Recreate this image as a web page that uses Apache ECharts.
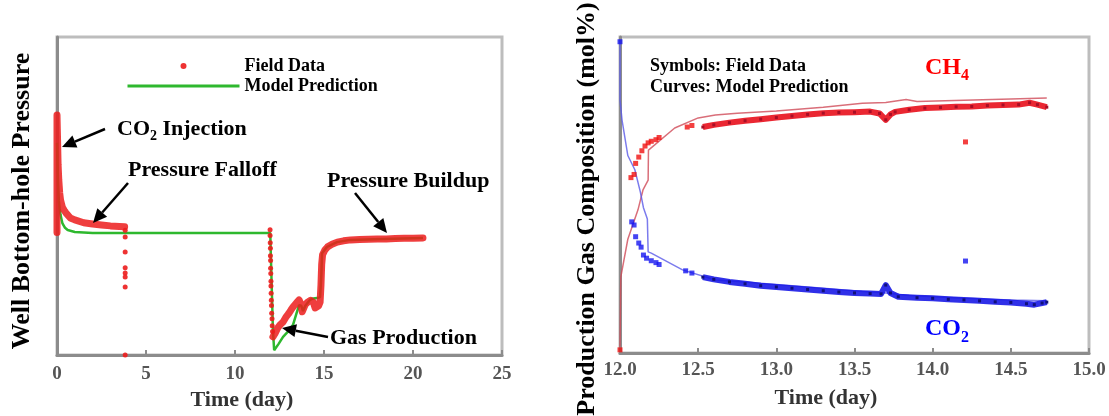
<!DOCTYPE html>
<html><head><meta charset="utf-8">
<script src="https://cdn.jsdelivr.net/npm/echarts@6/dist/echarts.min.js"></script>
<style>html,body{margin:0;padding:0;background:#fff}#c{width:1109px;height:416px}</style>
</head><body><div id="c"></div>
<script>
// ---------- tick labels ----------
const pressureTicks = [0, 5, 10, 15, 20, 25];
const compositionTicks = [12.0, 12.5, 13.0, 13.5, 14.0, 14.5, 15.0];

// ---------- left panel: well bottom-hole pressure (relative units, 0-100) ----------
const fieldFalloff = [[0,38.5],[0,75.5],[0.03,68],[0.06,60],[0.1,55],[0.15,51],[0.2,48.7],[0.3,46.5],[0.4,45.5],[0.5,44.7],[0.75,43.1],[1.0,42.5],[1.5,41.6],[2.0,41.2],[2.5,40.9],[3.0,40.6],[3.5,40.4],[3.8,40.3]];
const fieldDrops = [[3.83,39.2],[3.83,37.1],[3.83,32.4],[3.83,27.4],[3.83,25.8],[3.83,24.5],[3.83,21.4],[3.83,0],
  [11.97,39.4],[11.97,37.6],[11.98,35.3],[11.99,33.6],[11.99,31.2],[12.0,29.7],[12.0,27.3],[12.01,25.6],[12.02,23.2],[12.02,21.7],[12.03,19.4],[12.04,17.2],[12.05,15.6],[12.06,13.1],[12.08,11.4],[12.09,9.2],[12.11,7.4]];
const fieldProduction = [[12.13,5.7],[12.25,6.8],[12.4,8.5],[12.55,9.6],[12.7,10.4],[12.85,11.8],[13.0,12.9],[13.15,14.2],[13.26,15.1],[13.45,16.4],[13.6,17.3],[13.7,16.0],[13.78,13.6],[13.85,13.8],[13.95,15.9],[14.1,16.7],[14.25,17.2],[14.4,16.6],[14.5,14.8],[14.6,14.3],[14.7,15.5],[14.78,16.6],[14.83,22],[14.87,28.5],[14.92,31.5],[15.05,33],[15.2,34],[15.45,34.8],[15.75,35.5],[16.1,35.9],[16.5,36.2],[17.0,36.3],[17.5,36.4],[18.0,36.5],[18.5,36.5],[19.0,36.6],[19.5,36.7],[20.0,36.7],[20.56,36.8]];
const modelPressure = [[0,66.7],[0.03,60],[0.06,54],[0.1,48.7],[0.15,46],[0.2,44],[0.3,41.5],[0.45,40],[0.6,39.3],[1.0,38.7],[2.0,38.4],[4,38.4],[8,38.4],[11.98,38.4],[12.02,30],[12.08,18],[12.13,8],[12.2,1.5],[12.28,0.9],[12.45,3.5],[12.7,5.7],[13.0,7.5],[13.26,9.5],[13.45,13],[13.6,15.7],[13.72,15.5],[13.82,13.8],[13.95,15.5],[14.21,17.3],[14.4,17.8],[14.6,17.9],[14.78,18.2],[14.85,25],[14.89,32],[15.17,34],[15.73,35.5],[16.46,36.2],[18.31,36.5],[20.56,36.8]];

// ---------- right panel: production gas composition (mol%) ----------
const ch4FieldPoints = [[12.0,1],[12.07,55.5],[12.09,56.5],[12.1,60],[12.12,62],[12.14,64],[12.16,65.5],[12.18,66.5],[12.2,67],[12.23,67.5],[12.25,68.2],[12.43,71.5],[12.46,72],[14.21,66.8]];
const ch4FieldTrend = [[12.53,71.5],[12.6,72.2],[12.7,72.9],[12.8,73.5],[12.9,74.0],[13.0,74.5],[13.1,75.0],[13.2,75.5],[13.3,75.9],[13.4,76.1],[13.5,76.2],[13.6,76.4],[13.66,75.8],[13.70,73.8],[13.73,75.5],[13.76,76.3],[13.85,77.0],[13.95,77.5],[14.05,77.7],[14.15,77.9],[14.25,78.0],[14.35,78.3],[14.45,78.5],[14.55,78.6],[14.62,79.2],[14.67,78.6],[14.73,77.8]];
const ch4Model = [[12.0,2],[12.005,24],[12.05,36],[12.115,45.3],[12.147,51.6],[12.18,54.7],[12.182,64.2],[12.35,71.2],[12.5,74.4],[12.61,75.3],[12.75,75.9],[13.0,76.6],[13.3,77.8],[13.55,79.0],[13.7,79.3],[13.83,80.2],[13.9,79.6],[14.2,80.0],[14.5,80.4],[14.73,80.7]];
const co2FieldPoints = [[12.0,98.5],[12.075,41.5],[12.09,40.5],[12.1,36.8],[12.12,34.8],[12.135,33.5],[12.15,31],[12.17,30],[12.2,29.2],[12.23,28.6],[12.25,28],[12.42,26],[12.46,25.3],[14.21,29.1]];
const co2FieldTrend = [[12.53,24],[12.6,23.3],[12.7,22.5],[12.8,21.9],[12.9,21.3],[13.0,20.9],[13.1,20.5],[13.2,20.1],[13.3,19.7],[13.4,19.3],[13.5,19.0],[13.6,18.8],[13.67,18.7],[13.70,21.5],[13.73,19],[13.78,17.8],[13.9,17.5],[14.0,17.3],[14.1,17.0],[14.2,16.8],[14.3,16.5],[14.4,16.2],[14.5,16.0],[14.6,15.6],[14.65,15.3],[14.7,15.8],[14.73,16.1]];
const co2Model = [[12.0,99],[12.0,80],[12.013,73.7],[12.05,62.5],[12.095,58],[12.13,51],[12.15,46],[12.175,42.4],[12.18,32],[12.2,31.6],[12.4,26.3],[12.61,23.1],[12.75,22.6],[13.0,21.7],[13.3,20.5],[13.55,19.5],[13.7,19],[13.85,18.2],[14.2,17.3],[14.5,16.8],[14.73,16.5]];

// ---------- helpers ----------
const FONT = '"Liberation Serif", "Times New Roman", serif';
const mctx = document.createElement('canvas').getContext('2d');
function tw(t, s) { mctx.font = 'bold ' + s + 'px ' + FONT; return mctx.measureText(t).width; }
function txt(x, y, t, s, color, extra) {
  return Object.assign({ type: 'text', x: x, y: y, z: 100,
    style: { text: t, fontSize: s, fontWeight: 'bold', fontFamily: FONT, fill: color || '#000',
      align: 'left', textAlign: 'left', verticalAlign: 'middle', textVerticalAlign: 'middle' } }, extra || {});
}
function subLabel(x, y, main, sub, rest, s, ss, dy, color) {
  const out = [txt(x, y, main, s, color)];
  const w1 = tw(main, s);
  out.push(txt(x + w1, y + dy, sub, ss, color));
  if (rest) out.push(txt(x + w1 + tw(sub, ss), y, rest, s, color));
  return out;
}
function arrow(x1, y1, x2, y2) {
  const dx = x2 - x1, dy = y2 - y1, L = Math.hypot(dx, dy);
  const ux = dx / L, uy = dy / L, nx = -uy, ny = ux, H = 14, W = 6.5;
  const bx = x2 - ux * H, by = y2 - uy * H;
  return [
    { type: 'line', z: 100, shape: { x1: x1, y1: y1, x2: bx, y2: by }, style: { stroke: '#000', lineWidth: 2.5 } },
    { type: 'polygon', z: 100, shape: { points: [[x2, y2], [bx + nx * W, by + ny * W], [bx - nx * W, by - ny * W]] }, style: { fill: '#000' } }
  ];
}
function centered(g) { g.style.align = 'center'; g.style.textAlign = 'center'; return g; }

const graphics = [].concat(
  subLabel(117, 129, 'CO', '2', ' Injection', 22, 14, 7, '#000'),
  [txt(128, 170, 'Pressure Falloff', 22), txt(327, 181, 'Pressure Buildup', 22), txt(330, 338, 'Gas Production', 22)],
  arrow(105, 129, 62, 147), arrow(128, 183, 93, 223), arrow(355, 193, 387, 233), arrow(328, 337, 282, 328),
  [txt(650, 66, 'Symbols: Field Data', 18), txt(650, 87, 'Curves: Model Prediction', 18)],
  subLabel(925, 67.5, 'CH', '4', '', 24, 16, 8, '#ff0000'),
  subLabel(925, 328.5, 'CO', '2', '', 24, 16, 9, '#0000ff'),
  [centered(txt(242, 400, 'Time (day)', 22, '#333')), centered(txt(826, 398, 'Time (day)', 22, '#333'))],
  [centered(txt(22, 201, 'Well Bottom-hole Pressure', 26, '#000', { rotation: Math.PI / 2 })),
   centered(txt(587, 209, 'Production Gas Composition (mol%)', 26, '#000', { rotation: Math.PI / 2 }))]
);

function xAxisCfg(idx, ticks, fmt, margin) {
  return {
    type: 'value', gridIndex: idx, min: ticks[0], max: ticks[ticks.length - 1], interval: ticks[1] - ticks[0],
    axisLine: { show: true, lineStyle: { color: '#8c8c8c', width: 3 } },
    axisTick: { show: true, inside: true, length: 5, lineStyle: { color: '#8c8c8c', width: 2 } },
    axisLabel: { formatter: fmt, margin: margin, fontFamily: FONT, fontWeight: 'bold', fontSize: 19, color: '#555' },
    splitLine: { show: false }
  };
}
function yAxisCfg(idx) {
  return {
    type: 'value', gridIndex: idx, min: 0, max: 100,
    axisLine: { show: true, lineStyle: { color: '#8c8c8c', width: 3 } },
    axisTick: { show: false }, axisLabel: { show: false }, splitLine: { show: false }
  };
}

const chart = echarts.init(document.getElementById('c'), null, { renderer: 'canvas' });
chart.setOption({
  animation: false,
  backgroundColor: '#fff',
  grid: [
    { left: 57, top: 37, right: 607, bottom: 61, show: true, borderColor: '#bdbdbd', borderWidth: 3, backgroundColor: 'transparent' },
    { left: 620, top: 37, right: 20, bottom: 63, show: true, borderColor: '#bdbdbd', borderWidth: 3, backgroundColor: 'transparent' }
  ],
  xAxis: [
    xAxisCfg(0, pressureTicks, function (v) { return String(v); }, 10),
    xAxisCfg(1, compositionTicks, function (v) { return v.toFixed(1); }, 8)
  ],
  yAxis: [yAxisCfg(0), yAxisCfg(1)],
  legend: {
    left: 126, top: 57, orient: 'vertical', padding: 0, itemGap: 2, itemWidth: 112, itemHeight: 6,
    selectedMode: false,
    data: [{ name: 'Field Data', icon: 'circle' },
           { name: 'Model Prediction', itemStyle: { opacity: 0 }, lineStyle: { width: 3 } }],
    textStyle: { fontFamily: FONT, fontWeight: 'bold', fontSize: 18, color: '#000' }
  },
  series: [
    { type: 'scatter', name: 'Field Data', xAxisIndex: 0, yAxisIndex: 0, data: fieldDrops,
      symbol: 'circle', symbolSize: 5, itemStyle: { color: '#ec1c1c', opacity: 0.9 }, z: 4 },
    { type: 'line', name: 'Model Prediction', xAxisIndex: 0, yAxisIndex: 0, data: modelPressure,
      symbol: 'none', showSymbol: false, lineStyle: { color: '#2eb82e', width: 2.5 }, itemStyle: { color: '#2eb82e' }, z: 2 },
    { type: 'line', name: 'Field Data', xAxisIndex: 0, yAxisIndex: 0, data: fieldFalloff,
      symbol: 'none', lineStyle: { color: '#ec1c1c', width: 7, opacity: 0.85, cap: 'round', join: 'round' }, itemStyle: { color: '#ec1c1c' }, z: 3 },
    { type: 'line', name: 'Field Data', xAxisIndex: 0, yAxisIndex: 0, data: fieldProduction,
      symbol: 'none', lineStyle: { color: '#ec1c1c', width: 7, opacity: 0.85, cap: 'round', join: 'round' }, itemStyle: { color: '#ec1c1c' }, z: 3 },

    { type: 'line', name: 'CH4 Model', xAxisIndex: 1, yAxisIndex: 1, data: ch4Model,
      symbol: 'none', lineStyle: { color: '#d04a58', width: 1.5, opacity: 0.8 }, z: 2 },
    { type: 'line', name: 'CH4 Field', xAxisIndex: 1, yAxisIndex: 1, data: ch4FieldTrend,
      symbol: 'rect', symbolSize: 3, showSymbol: true, itemStyle: { color: '#a80e26' },
      lineStyle: { color: '#e8101c', width: 6, opacity: 0.9, join: 'round' }, z: 3 },
    { type: 'scatter', name: 'CH4 Field', xAxisIndex: 1, yAxisIndex: 1, data: ch4FieldPoints,
      symbol: 'rect', symbolSize: 5, itemStyle: { color: '#f01010' }, z: 4 },
    { type: 'line', name: 'CO2 Model', xAxisIndex: 1, yAxisIndex: 1, data: co2Model,
      symbol: 'none', lineStyle: { color: '#5a5ae8', width: 1.5, opacity: 0.8 }, z: 2 },
    { type: 'line', name: 'CO2 Field', xAxisIndex: 1, yAxisIndex: 1, data: co2FieldTrend,
      symbol: 'rect', symbolSize: 3, showSymbol: true, itemStyle: { color: '#10107a' },
      lineStyle: { color: '#1a1ae6', width: 6, opacity: 0.9, join: 'round' }, z: 3 },
    { type: 'scatter', name: 'CO2 Field', xAxisIndex: 1, yAxisIndex: 1, data: co2FieldPoints,
      symbol: 'rect', symbolSize: 5, itemStyle: { color: '#1515f0' }, z: 4 }
  ],
  graphic: graphics
});
</script></body></html>
